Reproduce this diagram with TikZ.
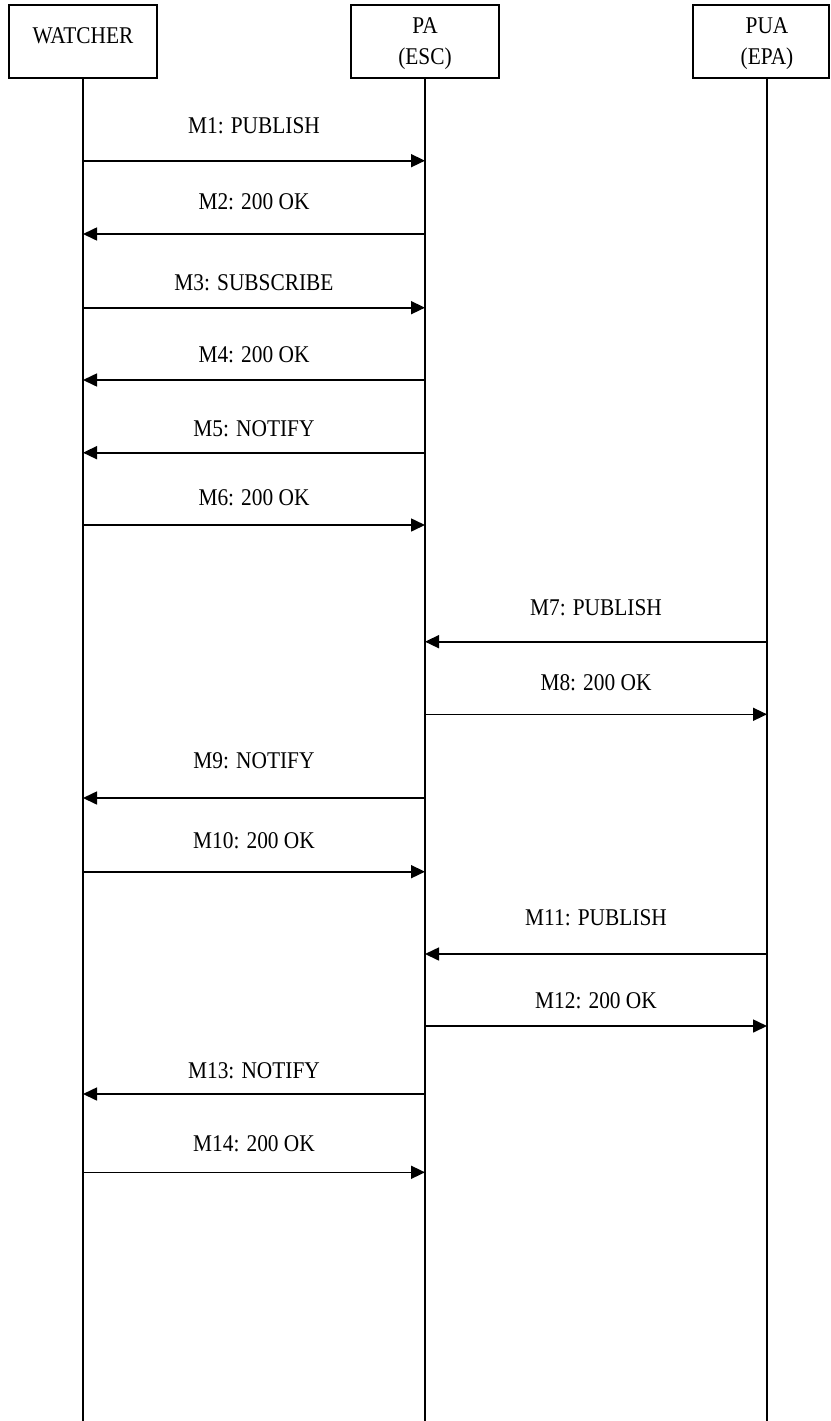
\documentclass[tikz,border=0pt]{standalone}
\usepackage{fontspec}
\setmainfont{Liberation Serif}[FakeStretch=0.89]
\usetikzlibrary{arrows.meta}
\begin{document}
\begin{tikzpicture}[x=1pt,y=-1pt,
  font=\fontsize{24}{31}\selectfont,
  hdr/.style={draw,line width=1.6pt,minimum height=73pt,inner sep=0pt},
  htxt/.style={inner sep=0pt,align=center},
  life/.style={line width=1.6pt},
  msg/.style={line width=1.6pt,-{Triangle[length=14pt,width=13pt]}},
  lbl/.style={inner sep=0pt,anchor=base}]
\useasboundingbox (0,0) rectangle (830,1421);
% header boxes
\node[hdr,minimum width=148pt] (W) at (83,41.5) {};
\node[htxt,anchor=base] (WT) at (83,44) {WATCHER};
\node[hdr,minimum width=148pt] (P) at (425,41.5) {};
\node[htxt] (PT) at (425,44) {PA\\(ESC)};
\node[hdr,minimum width=136pt] (U) at (761,41.5) {};
\node[htxt] (UT) at (767,44) {PUA\\(EPA)};
% lifelines
\coordinate (WB) at (83,1421);
\coordinate (PB) at (425,1421);
\coordinate (UB) at (767,1421);
\draw[life] (W.south) -- (WB);
\draw[life] (P.south) -- (PB);
\draw[life] (U.south -| UT) -- (UB);
% messages
\foreach \i/\ly/\y/\fx/\tx/\mx/\txt in {
  1/133/160.7/83/425/254/{M1: PUBLISH},
  2/209/234/425/83/254/{M2: 200 OK},
  3/290/307.7/83/425/254/{M3: SUBSCRIBE},
  4/362.7/380/425/83/254/{M4: 200 OK},
  5/436/452.7/425/83/254/{M5: NOTIFY},
  6/505/525/83/425/254/{M6: 200 OK},
  7/615/641.7/767/425/596/{M7: PUBLISH},
  8/690/714.3/425/767/596/{M8: 200 OK},
  9/768/798/425/83/254/{M9: NOTIFY},
  10/848/871.7/83/425/254/{M10: 200 OK},
  11/925/954/767/425/596/{M11: PUBLISH},
  12/1008/1026/425/767/596/{M12: 200 OK},
  13/1078/1094/425/83/254/{M13: NOTIFY},
  14/1151.7/1172.3/83/425/254/{M14: 200 OK}}{
  \coordinate (s\i) at (\fx,\y);
  \coordinate (e\i) at (\tx,\y);
  \draw[msg] (s\i) -- (e\i);
  \node[lbl] (l\i) at (\mx,\ly) {\txt};
}
\end{tikzpicture}
\end{document}
